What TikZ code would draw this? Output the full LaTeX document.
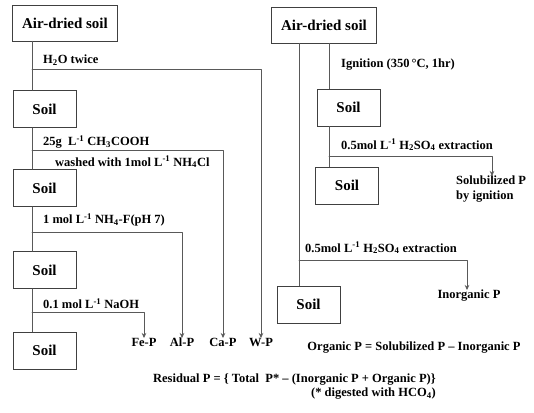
\documentclass[tikz,border=0pt]{standalone}
\usepackage{fontspec}
\setmainfont{Liberation Serif}
\usetikzlibrary{arrows.meta}

\begin{document}
\begin{tikzpicture}[x=1pt,y=-1pt]
\tikzset{
  soilbox/.style={rectangle,draw=black!75,line width=0.6pt,minimum width=63pt,minimum height=37pt,inner sep=1pt,font=\fontsize{15}{17}\selectfont\bfseries},
  airbox/.style={soilbox,minimum width=105pt,minimum height=36pt},
  flowline/.style={draw=black!65,line width=0.6pt,line cap=round,line join=round},
  flowarrow/.style={flowline,-{Stealth[length=5pt,width=4.5pt]}},
  steplabel/.style={anchor=west,inner sep=0pt,font=\fontsize{12.5}{14}\selectfont\bfseries},
  product/.style={anchor=north,inner sep=0pt,font=\fontsize{12.5}{15}\selectfont\bfseries}
}
\useasboundingbox (0,0) rectangle (534,412);
% left column: sequential fractionation
\node[airbox] (n_L0) at (65,23) {Air-dried soil};
\node[soilbox] (n_L1) at (44.5,109) {Soil};
\node[soilbox] (n_L2) at (44.5,188) {Soil};
\node[soilbox] (n_L3) at (44.5,270) {Soil};
\node[soilbox] (n_L4) at (44.5,350.5) {Soil};
\coordinate (t_L) at (32,0);
\coordinate (b_W) at (32,69);
\coordinate (b_Ca) at (32,150);
\coordinate (b_Al) at (32,232);
\coordinate (b_Fe) at (32,312);
\node[product] (p_Fe) at (144,338) {Fe-P};
\node[product] (p_Al) at (182,338) {Al-P};
\node[product] (p_Ca) at (223,338) {Ca-P};
\node[product] (p_W) at (261,338) {W-P};
\node[steplabel] (l_W) at (43,60) {H\textsubscript{2}O twice};
\node[steplabel] (l_Ca) at (43,142) {25g\ \ L\textsuperscript{-1} CH\textsubscript{3}COOH};
\node[steplabel] (l_wash) at (55,162) {washed with 1mol L\textsuperscript{-1} NH\textsubscript{4}Cl};
\node[steplabel] (l_Al) at (43,220) {1 mol L\textsuperscript{-1} NH\textsubscript{4}-F(pH 7)};
\node[steplabel] (l_Fe) at (43,304) {0.1 mol L\textsuperscript{-1} NaOH};
\draw[flowline] (n_L0.south -| t_L) -- (n_L1.north -| t_L);
\draw[flowline] (n_L1.south -| t_L) -- (n_L2.north -| t_L);
\draw[flowline] (n_L2.south -| t_L) -- (n_L3.north -| t_L);
\draw[flowline] (n_L3.south -| t_L) -- (n_L4.north -| t_L);
\draw[flowarrow] (b_W) -| (p_W.north);
\draw[flowarrow] (b_Ca) -| (p_Ca.north);
\draw[flowarrow] (b_Al) -| (p_Al.north);
\draw[flowarrow] (b_Fe) -| (p_Fe.north);
% right column: ignition method
\node[airbox] (n_R0) at (324,25) {Air-dried soil};
\node[soilbox] (n_R1) at (348.5,107.5) {Soil};
\node[soilbox] (n_R2) at (347,185.5) {Soil};
\node[soilbox] (n_R3) at (308.5,304.5) {Soil};
\coordinate (t_R1) at (299,0);
\coordinate (t_R2) at (329,0);
\coordinate (b_Sol) at (329,156);
\coordinate (b_Inorg) at (299,260);
\node[product,anchor=north west,align=left] (p_Sol) at (456,176) {Solubilized P\\by ignition};
\node[product] (p_Inorg) at (469,290) {Inorganic P};
\node[steplabel] (l_ign) at (341,65) {Ignition (350\,\textdegree C, 1hr)};
\node[steplabel] (l_Sol) at (341,145) {0.5mol L\textsuperscript{-1} H\textsubscript{2}SO\textsubscript{4} extraction};
\node[steplabel] (l_Inorg) at (305,248) {0.5mol L\textsuperscript{-1} H\textsubscript{2}SO\textsubscript{4} extraction};
\draw[flowline] (n_R0.south -| t_R2) -- (n_R1.north -| t_R2);
\draw[flowline] (n_R1.south -| t_R2) -- (n_R2.north -| t_R2);
\draw[flowline] (n_R0.south -| t_R1) -- (n_R3.north -| t_R1);
\draw[flowarrow] (b_Sol) -| ([xshift=36pt]p_Sol.north west);
\draw[flowarrow] (b_Inorg) -| ([xshift=-2pt]p_Inorg.north);
% equations
\node[steplabel,anchor=center] (eq_org) at (414,348) {Organic P = Solubilized P -- Inorganic P};
\node[steplabel,anchor=north east,align=right] (eq_res) at (436,374) {Residual P = \{ Total\ \ P* -- (Inorganic P + Organic P)\}\\(* digested with HCO\textsubscript{4})};
\end{tikzpicture}
\end{document}
